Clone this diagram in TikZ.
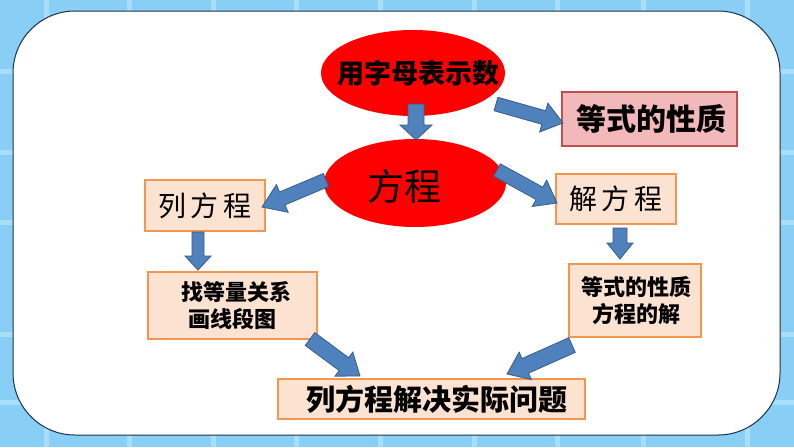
\documentclass[tikz,border=0pt]{standalone}
\usepackage{fontspec}
\newfontfamily\cjk{Noto Sans CJK SC}
\usetikzlibrary{shapes.geometric,calc}
\definecolor{bgblue}{RGB}{137,207,245}
\definecolor{gridblue}{RGB}{168,222,250}
\definecolor{framecol}{RGB}{25,50,75}
\definecolor{arrfill}{RGB}{79,129,189}
\definecolor{arrdraw}{RGB}{56,93,138}
\definecolor{pinkfill}{RGB}{243,184,186}
\definecolor{pinkdraw}{RGB}{192,80,77}
\definecolor{peachfill}{RGB}{252,226,208}
\definecolor{peachdraw}{RGB}{242,150,80}
\newcommand\blockarrow[5]{%
  \coordinate (hb) at ($(#2)!#5!(#1)$);
  \draw[blockarr] ($(#1)!#3!90:(#2)$) -- ($(hb)!#3!90:(#2)$) -- ($(hb)!#4!90:(#2)$)
    -- (#2) -- ($(hb)!#4!-90:(#2)$) -- ($(hb)!#3!-90:(#2)$) -- ($(#1)!#3!-90:(#2)$) -- cycle;}
\begin{document}
\begin{tikzpicture}[x=1pt,y=-1pt,
  redell/.style={ellipse, fill=red, inner sep=0},
  peachbox/.style={rectangle, fill=peachfill, draw=peachdraw, line width=1.1pt, inner sep=0, align=center},
  pinkbox/.style={rectangle, fill=pinkfill, draw=pinkdraw, line width=1.1pt, inner sep=0, align=center},
  blockarr/.style={fill=arrfill, draw=arrdraw, line width=0.8pt, line join=miter},
  heiti/.style={font=\cjk\bfseries\fontsize{#1}{#1}\selectfont},
  kaiti/.style={font=\cjk\fontsize{#1}{#1}\selectfont}]
\useasboundingbox (0,0) rectangle (794,447);
% background
\fill[bgblue] (0,0) rectangle (794,447);
\foreach \gx in {46,129,213,296,380,474,557,643,747}
  \fill[gridblue] (\gx-2.5,0) rectangle (\gx+2.5,447);
\foreach \gy in {71,152,222,334,402}
  \fill[gridblue] (0,\gy-2.5) rectangle (794,\gy+2.5);
\draw[framecol, fill=white, line width=1pt, rounded corners=62pt] (13,11) rectangle (780,435);

% ellipses (shape) and their texts
\node[redell, minimum width=184pt, minimum height=86pt] (e1) at (413,73) {};
\node[heiti=27, inner sep=0] (t1) at (418,73) {用字母表示数};
\node[redell, minimum width=182pt, minimum height=88pt] (e2) at (415,183) {};
\node[kaiti=37, inner sep=0] (t2) at (404,186) {方程};
% boxes
\node[pinkbox, heiti=30, minimum width=175pt, minimum height=54pt] (dx) at (649.5,119) {\hspace*{4pt}等式的性质};
\node[peachbox, kaiti=28, minimum width=120pt, minimum height=50pt] (jf) at (616,199) {解\,方\,程};
\node[peachbox, kaiti=28, minimum width=120pt, minimum height=51pt] (lf) at (205,205.5) {列\,方\,程};
\node[peachbox, font=\cjk\bfseries\fontsize{22}{27}\selectfont, minimum width=169pt, minimum height=67pt] (zd) at (232.5,305.5) {\hspace*{8pt}找等量关系\\画线段图};
\node[peachbox, font=\cjk\bfseries\fontsize{22}{27}\selectfont, minimum width=132pt, minimum height=73pt] (fj) at (635,300.5) {\hspace*{3pt}等式的性质\\\hspace*{3pt}方程的解};
\node[peachbox, heiti=29, minimum width=307pt, minimum height=40pt] (bt) at (431.5,399) {\hspace*{10pt}列方程解决实际问题};

% arrow end points
\coordinate (a1s) at (416,104);  \coordinate (a1e) at (416,140);
\coordinate (a2s) at (496,104);  \coordinate (a2e) at (563,123);
\coordinate (a3s) at (497,170);  \coordinate (a3e) at (557,203);
\coordinate (a4s) at (326,180);  \coordinate (a4e) at (262,207);
\coordinate (a5s) at (198,232);  \coordinate (a5e) at (198,270);
\coordinate (a6s) at (620,228);  \coordinate (a6e) at (620,259);
\coordinate (a7s) at (310,339);  \coordinate (a7e) at (360,376);
\coordinate (a8s) at (572,345);  \coordinate (a8e) at (507,374);

\blockarrow{a1s}{a1e}{8pt}{16pt}{15pt}
\blockarrow{a2s}{a2e}{7pt}{15pt}{20pt}
\blockarrow{a3s}{a3e}{7pt}{15pt}{20pt}
\blockarrow{a4s}{a4e}{7pt}{15pt}{22pt}
\blockarrow{a5s}{a5e}{6pt}{13pt}{14pt}
\blockarrow{a6s}{a6e}{7pt}{13pt}{16pt}
\blockarrow{a7s}{a7e}{8pt}{15pt}{20pt}
\blockarrow{a8s}{a8e}{8pt}{15pt}{20pt}
\end{tikzpicture}
\end{document}
